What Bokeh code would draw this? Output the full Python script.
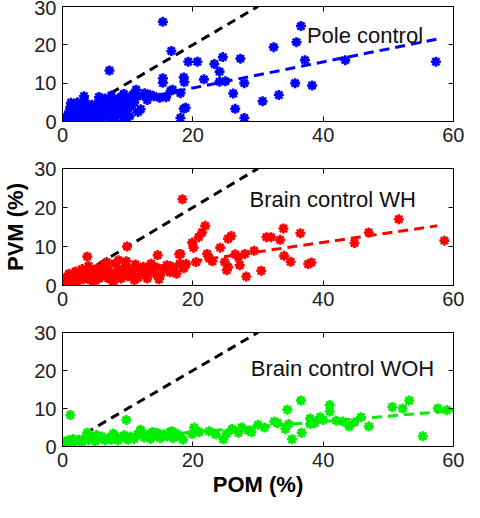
from bokeh.plotting import figure
from bokeh.layouts import column
from bokeh.models import Range1d, FixedTicker, LinearAxis, Label
from bokeh.embed import file_html
from bokeh.resources import INLINE

# ---------------- data ----------------
x_ticks = [0, 20, 40, 60]
y_ticks = [0, 10, 20, 30]

pole_pom = [15.4, 16.7, 7.2, 36.6, 32.4, 35.9, 24.6, 27.3, 19.3, 20.7, 23.3, 24.1, 37.2, 43.4, 57.3,
            21.7, 15.4, 15.4, 18.6, 18.7, 24.1, 26.2, 26.5, 27.9, 27.9, 18.6, 18.1, 18.1, 30.7, 33.2,
            35.7, 38.3, 16.9, 15.9, 12.6, 11.3, 11.6, 13.4, 14.9, 16.6, 18.9, 25.0,
            0.0, 0.3, 0.6, 0.8, 1.0, 1.2, 1.3, 1.5, 1.8, 2.0, 2.2, 2.4, 2.6, 2.8, 3.0, 3.3, 3.4, 3.5,
            3.8, 4.0, 4.2, 4.5, 4.8, 5.0, 5.2, 5.5, 5.8, 6.0, 6.2, 6.5, 6.8, 7.0, 7.2, 7.5, 7.8, 8.0,
            8.2, 8.5, 8.8, 9.0, 9.2, 9.5, 9.8, 10.0, 10.3, 10.5, 10.8, 11.0, 11.5, 12.0, 12.5, 13.0,
            14.0, 1.6, 2.3, 4.4, 6.6, 8.6, 9.4, 7.6, 5.6, 3.2, 0.9, 2.0, 5.0, 7.4, 9.6]
pole_pvm = [26.0, 18.4, 13.3, 24.9, 19.4, 20.7, 16.8, 16.4, 15.6, 15.6, 15.0, 13.0, 16.0, 16.0, 15.6,
            11.0, 11.3, 10.1, 11.5, 10.3, 10.4, 7.3, 3.3, 0.9, 10.0, 3.3, 0.9, 7.4, 5.3, 6.9,
            10.0, 9.4, 8.3, 6.3, 7.4, 8.3, 2.5, 7.0, 6.2, 8.0, 3.6, 10.5,
            0.9, 0.3, 0.6, 1.5, 2.5, 3.8, 4.9, 0.5, 1.2, 2.0, 3.0, 0.8, 1.6, 4.2, 2.5, 6.6, 5.4, 1.0,
            3.4, 2.0, 0.6, 4.4, 2.8, 1.4, 3.6, 5.0, 2.2, 0.8, 4.0, 6.0, 3.0, 1.6, 5.2, 6.8, 2.4, 4.4,
            1.0, 5.8, 3.4, 6.4, 1.8, 4.8, 2.8, 6.0, 1.4, 3.8, 7.0, 5.0, 6.6, 3.2, 6.8, 5.6,
            6.6, 2.8, 5.0, 3.2, 4.8, 2.0, 7.2, 3.8, 6.4, 1.8, 1.2, 0.2, 0.2, 0.4, 0.5]
pole_fit_x = [0.5, 57.5]
pole_fit_y = [2.1, 21.5]

wh_pom = [18.4, 51.6, 58.6, 47.0, 44.8, 33.9, 36.5, 33.4, 31.3, 32.0, 34.0, 35.0, 37.7, 38.2, 30.5,
          28.2, 29.4, 28.0, 27.2, 21.9, 21.4, 20.9, 25.9, 25.4, 24.2, 19.9, 20.1, 22.2, 24.9, 25.4,
          25.2, 18.1, 18.6, 14.6, 3.8, 9.9, 17.9, 8.6, 22.5, 23.0, 26.5, 20.5, 19.0, 16.5, 27.0,
          0.0, 0.3, 0.5, 0.8, 1.0, 1.2, 1.5, 1.8, 2.0, 2.3, 2.6, 3.0, 3.2, 3.5, 3.8, 4.0, 4.3, 4.6,
          5.0, 5.3, 5.6, 6.0, 6.3, 6.6, 7.0, 7.3, 7.6, 8.0, 8.3, 8.6, 9.0, 9.3, 9.6, 10.0, 10.4,
          10.8, 11.2, 11.6, 12.0, 12.4, 12.8, 13.2, 13.6, 14.0, 14.5, 15.0, 15.5, 16.0, 16.5, 17.0,
          17.5, 18.0, 11.0, 13.0, 14.8, 6.8, 9.8, 2.0, 4.8, 7.8]
wh_pvm = [22.1, 17.0, 11.5, 13.6, 10.9, 14.6, 13.4, 11.7, 12.4, 12.4, 7.6, 6.1, 5.5, 5.9, 3.8,
          2.3, 8.9, 8.1, 5.2, 15.3, 13.6, 12.4, 12.7, 12.0, 9.7, 11.0, 9.7, 8.1, 6.0, 4.7,
          3.9, 8.1, 4.4, 7.8, 7.4, 10.0, 8.0, 6.5, 7.0, 6.2, 8.0, 6.0, 5.5, 5.0, 7.2,
          1.2, 0.6, 2.0, 1.5, 3.0, 0.8, 2.4, 1.8, 3.6, 1.2, 2.8, 4.2, 1.6, 3.0, 2.2, 5.0, 1.4, 3.6,
          2.6, 4.4, 1.8, 3.2, 5.4, 2.2, 4.0, 1.6, 3.0, 5.6, 2.6, 4.2, 1.8, 3.4, 5.0, 2.4, 4.0,
          3.0, 5.4, 2.0, 3.8, 4.8, 2.6, 4.2, 5.6, 3.2, 4.6, 2.6, 4.0, 5.2, 3.4, 4.4,
          3.0, 5.6, 1.4, 1.8, 1.6, 6.0, 6.2, 0.4, 0.6, 0.9]
wh_fit_x = [0.5, 57.5]
wh_fit_y = [1.5, 15.3]

woh_pom = [1.2, 9.8, 36.6, 53.2, 50.6, 52.2, 57.6, 41.0, 41.0, 34.5, 55.3, 35.2, 36.7, 34.2, 34.7,
           32.5, 38.0, 38.7, 38.0, 39.5, 44.0, 45.8, 47.0, 43.0, 30.0, 27.5, 24.7, 20.2, 19.9, 11.9,
           3.8, 0.8, 28.5, 26.0, 22.5, 23.5, 29.0, 31.0, 33.0, 40.0, 44.8, 42.0, 59.0, 21.0, 25.2, 27.0,
           0.0, 0.4, 0.8, 1.2, 1.6, 2.0, 2.5, 3.0, 3.5, 4.0, 4.5, 5.0, 5.5, 6.0, 6.5, 7.0, 7.5, 8.0,
           8.5, 9.0, 9.5, 10.0, 10.5, 11.0, 11.5, 12.0, 12.5, 13.0, 13.5, 14.0, 14.5, 15.0, 15.5,
           16.0, 16.5, 17.0, 17.5, 18.0, 18.5, 16.8, 7.8, 5.2, 13.8]
woh_pvm = [8.3, 7.0, 12.1, 12.1, 10.4, 10.0, 10.0, 10.9, 9.2, 9.7, 2.7, 1.9, 3.6, 4.6, 5.9,
           6.6, 7.4, 6.2, 5.9, 7.7, 5.3, 7.7, 5.3, 6.6, 5.7, 5.0, 1.9, 5.0, 3.3, 4.0,
           3.6, 0.2, 4.2, 4.6, 4.0, 3.2, 3.8, 5.0, 6.2, 7.0, 6.4, 6.8, 9.6, 3.8, 3.4, 3.6,
           1.2, 0.8, 1.6, 1.0, 2.0, 1.4, 1.8, 1.2, 2.2, 1.6, 2.4, 1.4, 2.0, 2.6, 1.6, 2.2, 1.8, 2.8,
           1.6, 2.4, 3.0, 1.8, 2.6, 2.0, 3.2, 4.4, 2.4, 3.0, 2.0, 2.8, 3.6, 2.2, 3.2,
           2.6, 3.8, 2.2, 3.4, 2.8, 1.8, 4.0, 3.4, 3.0, 3.8]
woh_fit_x = [1.0, 60.0]
woh_fit_y = [1.1, 9.4]

unity_x = [1.5, 30.0]
unity_y = [1.5, 30.0]

panel_titles = ["Pole control", "Brain control WH", "Brain control WOH"]
title_pos_x = [37.5, 28.7, 28.9]
title_pos_y = [22.4, 22.0, 20.4]

FONT = "Liberation Sans"


def make_panel(pom, pvm, fit_x, fit_y, color, title, tx, ty, h, top, bottom, ylabel=None, xlabel=None):
    p = figure(width=464, height=h,
               x_range=Range1d(0, 60), y_range=Range1d(0, 30),
               min_border_left=60, min_border_right=11,
               min_border_top=top, min_border_bottom=bottom,
               output_backend="svg", toolbar_location=None)
    p.add_layout(LinearAxis(), "above")
    p.add_layout(LinearAxis(), "right")
    p.grid.visible = False
    p.outline_line_color = "black"
    p.outline_line_alpha = 1.0
    p.background_fill_color = "white"
    p.border_fill_color = "white"
    for ax in p.below + p.above:
        ax.ticker = FixedTicker(ticks=x_ticks)
    for ax in p.left + p.right:
        ax.ticker = FixedTicker(ticks=y_ticks)
    for ax in p.below + p.above + p.left + p.right:
        ax.axis_line_color = "black"
        ax.major_tick_in = 5
        ax.major_tick_out = 0
        ax.major_tick_line_color = "black"
        ax.minor_tick_line_color = None
        ax.major_label_text_font = FONT
        ax.major_label_text_font_size = "20px"
        ax.major_label_text_color = "#222222"
        ax.major_label_standoff = 6
        ax.axis_label_text_font = FONT
        ax.axis_label_text_font_size = "22px"
        ax.axis_label_text_font_style = "bold"
        ax.axis_label_text_color = "black"
    for ax in p.above + p.right:
        ax.major_label_text_font_size = "1px"
        ax.major_label_text_color = None
        ax.major_label_standoff = 0
    if ylabel:
        p.left[0].axis_label = ylabel
    if xlabel:
        p.below[0].axis_label = xlabel
    p.below[0].axis_label_standoff = 2
    p.left[0].axis_label_standoff = 3

    p.line(unity_x, unity_y, line_color="black", line_width=3, line_dash="9 6")
    p.scatter(pom, pvm, marker="asterisk", size=10, line_color=color, line_width=2.6)
    p.line(fit_x, fit_y, line_color=color, line_width=3, line_dash="10 6")
    p.add_layout(Label(x=tx, y=ty, text=title, text_font=FONT, text_font_size="22px",
                       text_color="#111111", text_baseline="alphabetic"))
    return p


p1 = make_panel(pole_pom, pole_pvm, pole_fit_x, pole_fit_y, "#0000ff",
                panel_titles[0], title_pos_x[0], title_pos_y[0], 150, 6, 29)
p2 = make_panel(wh_pom, wh_pvm, wh_fit_x, wh_fit_y, "#ff0000",
                panel_titles[1], title_pos_x[1], title_pos_y[1], 164, 18, 29, ylabel="PVM (%)")
p3 = make_panel(woh_pom, woh_pvm, woh_fit_x, woh_fit_y, "#00ee00",
                panel_titles[2], title_pos_x[2], title_pos_y[2], 187, 18, 55, xlabel="POM (%)")

layout = column(p1, p2, p3, spacing=0)
open("out.html", "w").write(file_html(layout, INLINE))
